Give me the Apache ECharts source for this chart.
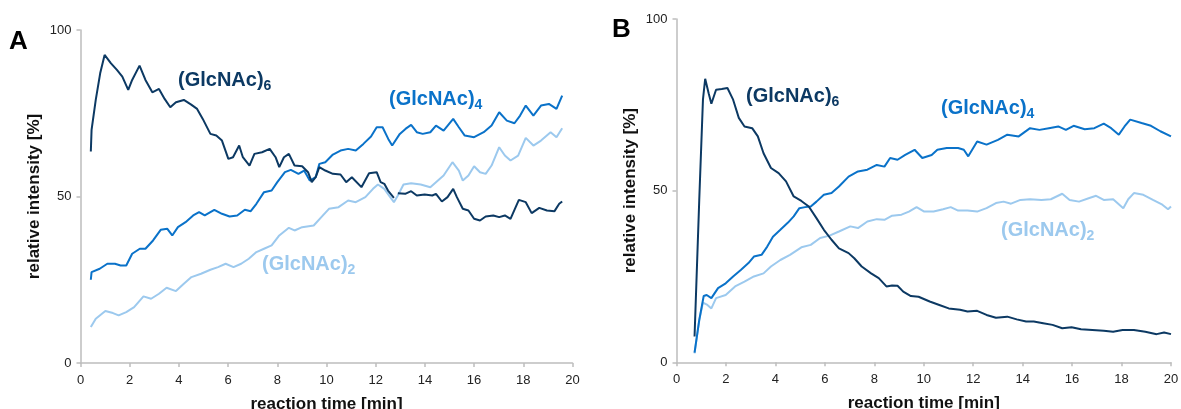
<!DOCTYPE html>
<html>
<head>
<meta charset="utf-8">
<title>GlcNAc</title>
<style>
  html, body { margin: 0; padding: 0; background: #fff; }
  #chart { width: 1181px; height: 409px; }
</style>
</head>
<body>
<div id="chart"></div>
<script src="https://cdn.jsdelivr.net/npm/echarts@6/dist/echarts.min.js"></script>
<script>
// panel A (time in min, relative intensity in %)
var aHexaT = [0.42, 0.45, 0.62, 0.8, 0.98, 1.24, 1.48, 1.7, 1.94, 2.1, 2.4, 2.64, 2.92, 3.19, 3.42, 3.65, 3.88, 4.2, 4.5, 4.74, 4.97, 5.28, 5.52, 5.75, 6.01, 6.2, 6.45, 6.6, 6.87, 7.07, 7.38, 7.69, 7.93, 8.08, 8.27, 8.47, 8.7, 9.01, 9.25, 9.4, 9.56, 9.71, 9.95, 10.26, 10.57, 10.8, 11.03, 11.42, 11.73, 12.04, 12.2, 12.35, 12.5, 12.74, 12.82, 12.9, 13.2, 13.44, 13.67, 13.99, 14.3, 14.45, 14.69, 14.92, 15.15, 15.3, 15.54, 15.77, 16.0, 16.24, 16.47, 16.78, 17.02, 17.25, 17.48, 17.82, 18.1, 18.34, 18.65, 18.96, 19.27, 19.46, 19.58];
var aHexaV = [63.5, 70, 79, 87, 92.5, 90, 88, 86, 82, 85, 89.3, 85, 81.3, 82.3, 79.3, 76.8, 78.3, 79, 77.6, 76.3, 73.3, 68.8, 68.3, 66.8, 61.3, 61.8, 65.3, 61.8, 59.3, 62.8, 63.3, 64.3, 61.8, 58.8, 61.8, 62.8, 59.3, 59.1, 57.3, 54.3, 55.8, 58.8, 57.8, 56.8, 56.6, 54.3, 55.8, 52.8, 57, 57.3, 54.3, 53.8, 51.8, 49.6, null, 51, 50.8, 51.6, 50.3, 50.6, 50.3, 50.8, 48.5, 49.8, 52.3, 49.8, 46.3, 45.8, 43.3, 42.8, 44, 44.3, 43.8, 44.3, 43.3, 49, 48.3, 45, 46.6, 45.8, 45.6, 47.8, 48.5];

var aTetraT = [0.42, 0.45, 0.78, 1.09, 1.4, 1.63, 1.86, 2.1, 2.41, 2.64, 2.95, 3.26, 3.53, 3.73, 3.96, 4.27, 4.58, 4.82, 5.05, 5.44, 5.75, 6.06, 6.37, 6.68, 6.92, 7.15, 7.46, 7.77, 8.0, 8.31, 8.55, 8.86, 9.09, 9.32, 9.56, 9.71, 9.95, 10.26, 10.57, 10.88, 11.19, 11.5, 11.81, 12.04, 12.28, 12.51, 12.67, 12.98, 13.21, 13.44, 13.67, 13.91, 14.22, 14.45, 14.76, 15.15, 15.38, 15.62, 16.0, 16.39, 16.71, 17.02, 17.33, 17.64, 17.87, 18.1, 18.41, 18.72, 19.04, 19.35, 19.58];
var aTetraV = [25, 27.3, 28.3, 29.8, 29.8, 29.3, 29.3, 32.8, 34.3, 34.3, 36.8, 40, 40.3, 38.3, 40.8, 42.3, 44.3, 45.3, 44.3, 46, 44.8, 44, 44.3, 46, 45.6, 47.8, 51.3, 51.8, 54.3, 57.3, 58, 56.8, 57.8, 54.8, 55.8, 59.8, 60.3, 62.6, 63.8, 64.3, 63.8, 65.8, 68, 70.8, 70.8, 67.3, 65.3, 68.8, 70.3, 71.5, 69.3, 68.8, 69.3, 71.3, 69.8, 73.3, 70.8, 68.3, 67.8, 69.3, 71.3, 75.3, 72.8, 72, 74.3, 77.3, 74.3, 77.3, 77.8, 76.3, 80.3];

var aDiT = [0.42, 0.62, 1.01, 1.32, 1.55, 1.86, 2.18, 2.56, 2.87, 3.19, 3.5, 3.88, 4.2, 4.51, 4.9, 5.28, 5.59, 5.9, 6.22, 6.53, 6.84, 7.15, 7.46, 7.77, 8.08, 8.47, 8.7, 9.01, 9.48, 9.79, 10.1, 10.49, 10.88, 11.19, 11.58, 11.89, 12.09, 12.35, 12.59, 12.74, 12.9, 13.13, 13.44, 13.83, 14.22, 14.45, 14.76, 15.12, 15.38, 15.54, 15.77, 16.0, 16.24, 16.47, 16.71, 17.02, 17.25, 17.48, 17.79, 18.1, 18.41, 18.72, 19.11, 19.35, 19.58];
var aDiV = [10.8, 13.3, 15.6, 15, 14.3, 15.3, 16.8, 20, 19.3, 20.8, 22.6, 21.6, 23.8, 25.8, 26.8, 28, 28.8, 29.8, 28.8, 29.8, 31.3, 33.3, 34.3, 35.3, 38.3, 40.6, 39.8, 40.8, 41.3, 43.8, 46.3, 46.8, 48.8, 48.3, 49.8, 52.3, 53.6, 52.3, 49.8, 48.3, 50.3, 53.6, 54, 53.6, 52.8, 54.3, 56.3, 60.3, 57.8, 54.8, 56.3, 59.1, 57.3, 56.8, 59.3, 64.8, 62.3, 60.8, 62.3, 67.6, 65.3, 66.8, 69.3, 67.8, 70.5];

// panel B
var bHexaT = [0.73, 0.92, 1.07, 1.16, 1.3, 1.41, 1.6, 1.83, 2.06, 2.29, 2.52, 2.75, 3.06, 3.29, 3.52, 3.82, 4.13, 4.43, 4.74, 5.05, 5.35, 5.66, 5.96, 6.27, 6.57, 6.96, 7.19, 7.49, 7.87, 8.18, 8.49, 8.72, 8.94, 9.17, 9.48, 9.79, 10.24, 10.63, 11.01, 11.47, 11.77, 12.16, 12.54, 12.92, 13.38, 13.76, 14.14, 14.45, 14.83, 15.21, 15.6, 15.98, 16.36, 16.82, 17.28, 17.66, 18.04, 18.5, 18.96, 19.42, 19.72, 20];
var bHexaV = [7.5, 47.3, 76.5, 82.6, 78.4, 75.3, 79.4, 79.6, 79.9, 76.5, 71.2, 68.7, 68.2, 65.8, 60.9, 56.6, 55.1, 52.7, 48.3, 47, 45.4, 42, 38.6, 35.7, 33.2, 31.8, 30.3, 27.9, 25.9, 24.5, 22.1, 22.4, 22.3, 20.6, 19.3, 19.1, 17.7, 16.7, 15.7, 15.3, 14.8, 15, 13.8, 13, 13.3, 12.5, 11.9, 11.9, 11.4, 10.9, 9.9, 10.2, 9.6, 9.4, 9.2, 8.9, 9.4, 9.4, 8.9, 8.2, 8.7, 8.2];

var bTetraT = [0.73, 0.92, 1.1, 1.22, 1.41, 1.68, 1.99, 2.29, 2.6, 2.91, 3.13, 3.44, 3.67, 3.9, 4.2, 4.51, 4.74, 4.97, 5.2, 5.43, 5.66, 5.96, 6.27, 6.57, 6.96, 7.34, 7.72, 8.1, 8.41, 8.64, 8.94, 9.25, 9.63, 9.94, 10.32, 10.55, 10.93, 11.39, 11.62, 11.8, 12.16, 12.54, 13.0, 13.38, 13.84, 14.3, 14.68, 15.06, 15.44, 15.75, 16.06, 16.51, 16.9, 17.28, 17.58, 17.89, 18.12, 18.35, 18.81, 19.19, 19.57, 20];
var bTetraV = [2.8, 12.3, 19.3, 19.6, 18.7, 21.6, 23, 25, 26.9, 28.9, 30.8, 31.3, 33.7, 36.6, 38.6, 40.7, 42.5, 44.9, 45.2, 45.4, 46.8, 48.8, 49.3, 51.2, 54.1, 55.6, 56.1, 57.5, 57, 59.5, 59, 60.4, 61.9, 59.5, 60.4, 61.9, 62.4, 62.4, 61.9, 60, 64.3, 63.4, 64.8, 66.3, 65.8, 68.2, 67.7, 68.2, 68.7, 67.7, 68.9, 67.9, 68.2, 69.5, 68.2, 66.3, 68.7, 70.7, 69.7, 68.9, 67.3, 65.8];

var bDiT = [0.73, 0.92, 1.07, 1.25, 1.41, 1.6, 1.99, 2.37, 2.75, 3.13, 3.52, 3.82, 4.2, 4.59, 5.05, 5.43, 5.81, 6.19, 6.57, 7.03, 7.34, 7.72, 8.1, 8.41, 8.72, 9.1, 9.4, 9.71, 10.02, 10.4, 10.78, 11.09, 11.39, 11.77, 12.16, 12.54, 12.92, 13.23, 13.53, 13.91, 14.3, 14.76, 15.14, 15.6, 15.9, 16.28, 16.67, 16.97, 17.28, 17.66, 18.07, 18.27, 18.5, 18.88, 19.27, 19.65, 19.88, 20];
var bDiV = [2.6, 12.3, 17.4, 16.7, 15.7, 18.7, 19.6, 22.1, 23.5, 25, 25.9, 27.9, 29.8, 31.3, 33.5, 34.2, 36.2, 36.9, 38.1, 39.6, 39.1, 41, 41.7, 41.5, 42.7, 43, 43.9, 45.2, 43.9, 43.9, 44.6, 45.2, 44.2, 44.2, 43.9, 44.9, 46.4, 46.8, 46.2, 47.3, 47.5, 47.3, 47.5, 49.1, 47.3, 46.8, 47.8, 48.5, 47.3, 47.5, 44.9, 47.5, 49.3, 48.8, 47.3, 45.9, 44.6, 45.4];

var xTicks = { min: 0, max: 20, interval: 2 };
var yTicks = { min: 0, max: 100, interval: 50 };

var cDark = '#0c3963';
var cMid = '#0a72c9';
var cLight = '#9cc9ee';
var font = 'Liberation Sans, Arial, Helvetica, sans-serif';

function zip(t, v) {
  return t.map(function (x, i) { return [x, v[i]]; });
}

function xAxis(idx) {
  return {
    type: 'value', gridIndex: idx,
    min: xTicks.min, max: xTicks.max, interval: xTicks.interval,
    name: 'reaction time [min]', nameLocation: 'middle', nameGap: 33,
    nameTextStyle: { fontFamily: font, fontWeight: 'bold', fontSize: 17, color: '#111' },
    axisLine: { lineStyle: { color: '#bdbdbd', width: 1.5 } },
    axisTick: { length: 4, lineStyle: { color: '#bdbdbd', width: 1.5 } },
    axisLabel: { fontFamily: font, fontSize: 13, color: '#222', margin: 11 },
    splitLine: { show: false }
  };
}

function yAxis(idx) {
  return {
    type: 'value', gridIndex: idx,
    min: yTicks.min, max: yTicks.max, interval: yTicks.interval,
    name: 'relative intensity [%]', nameLocation: 'middle', nameGap: 38,
    nameTextStyle: { fontFamily: font, fontWeight: 'bold', fontSize: 17, color: '#111' },
    axisLine: { show: true, lineStyle: { color: '#bdbdbd', width: 1.5 } },
    axisTick: { show: true, length: 4, lineStyle: { color: '#bdbdbd', width: 1.5 } },
    axisLabel: { fontFamily: font, fontSize: 13, color: '#222', margin: 9 },
    splitLine: { show: false }
  };
}

function line(idx, t, v, color) {
  return {
    type: 'line', xAxisIndex: idx, yAxisIndex: idx,
    data: zip(t, v), showSymbol: false, connectNulls: false,
    lineStyle: { color: color, width: 2 }, itemStyle: { color: color }
  };
}

function label(left, top, sub, color) {
  return {
    type: 'text', left: left, top: top,
    style: {
      text: '{m|(GlcNAc)}{s|' + sub + '}',
      fill: color,
      rich: {
        m: { fontFamily: font, fontWeight: 'bold', fontSize: 20, lineHeight: 23, verticalAlign: 'top', fill: color },
        s: { fontFamily: font, fontWeight: 'bold', fontSize: 14, lineHeight: 23, verticalAlign: 'bottom', fill: color }
      }
    }
  };
}

var chart = echarts.init(document.getElementById('chart'));
chart.setOption({
  animation: false,
  backgroundColor: '#fff',
  grid: [
    { left: 80.5, right: 608.5, top: 30, bottom: 46, outerBoundsMode: 'none', containLabel: false },
    { left: 676.5, right: 10, top: 19, bottom: 46.7, outerBoundsMode: 'none', containLabel: false }
  ],
  xAxis: [xAxis(0), xAxis(1)],
  yAxis: [yAxis(0), yAxis(1)],
  series: [
    line(0, aDiT, aDiV, cLight),
    line(0, aTetraT, aTetraV, cMid),
    line(0, aHexaT, aHexaV, cDark),
    line(1, bDiT, bDiV, cLight),
    line(1, bTetraT, bTetraV, cMid),
    line(1, bHexaT, bHexaV, cDark)
  ],
  graphic: [
    { type: 'text', left: 9, top: 29, style: { text: 'A', fontFamily: font, fontWeight: 'bold', fontSize: 26, fill: '#000' } },
    { type: 'text', left: 612, top: 17, style: { text: 'B', fontFamily: font, fontWeight: 'bold', fontSize: 26, fill: '#000' } },
    label(178, 70, '6', cDark),
    label(389, 89, '4', cMid),
    label(262, 254, '2', cLight),
    label(746, 86, '6', cDark),
    label(941, 98, '4', cMid),
    label(1001, 220, '2', cLight)
  ]
});
</script>
</body>
</html>
